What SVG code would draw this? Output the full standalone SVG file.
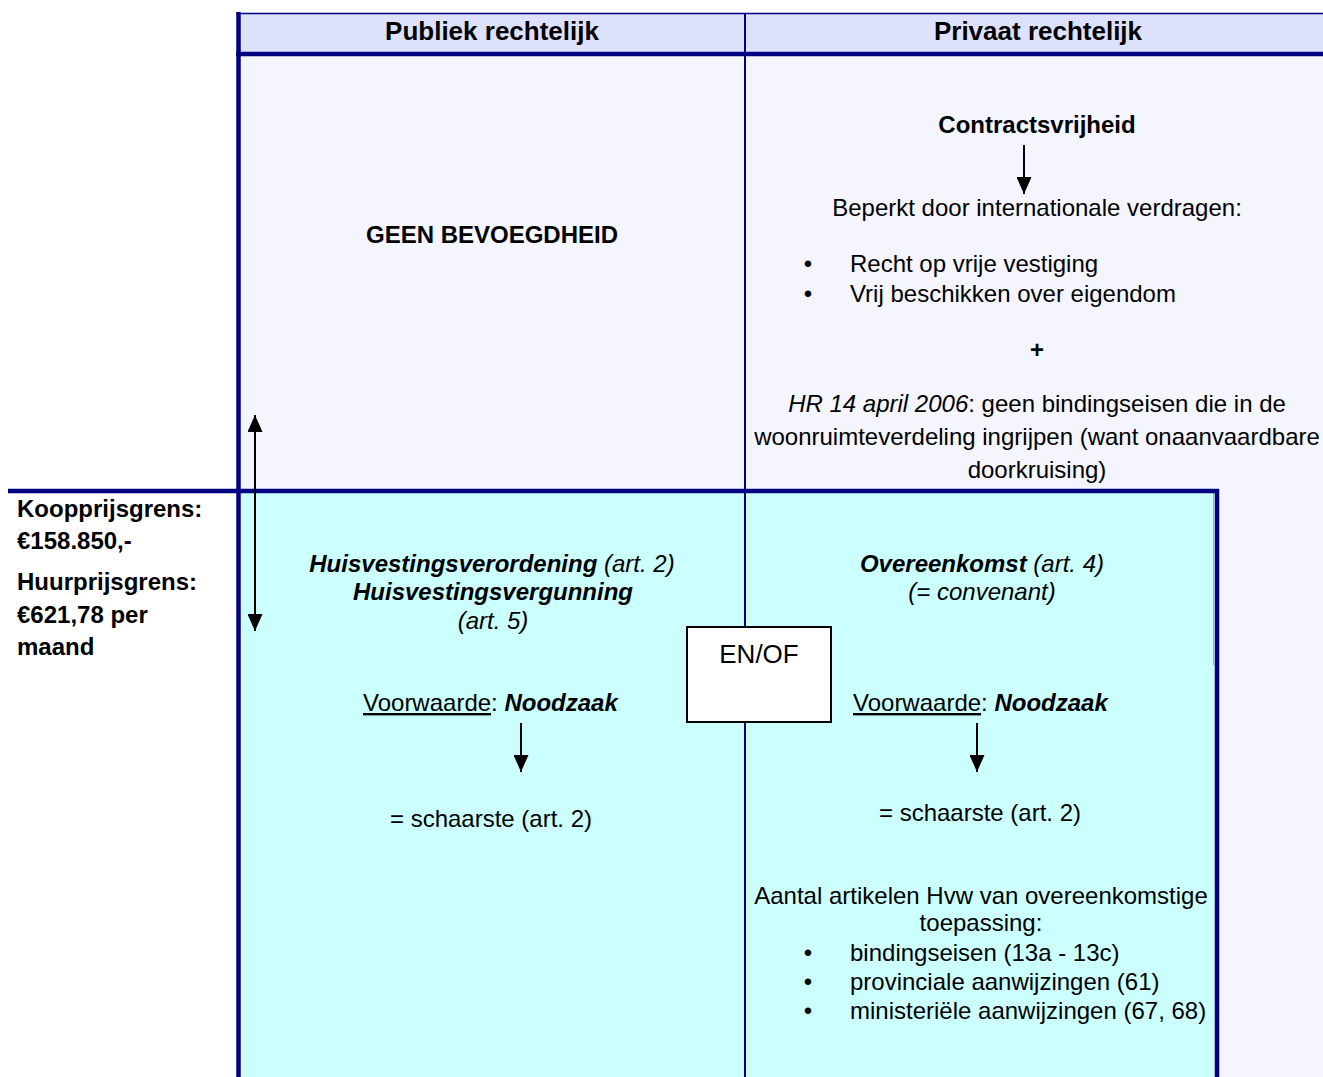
<svg xmlns="http://www.w3.org/2000/svg" width="1323" height="1077" viewBox="0 0 1323 1077">
<defs>
<marker id="ah" viewBox="0 0 17 15" refX="17" refY="7.5" markerWidth="17" markerHeight="15" markerUnits="userSpaceOnUse" orient="auto">
<path d="M0,0 L17,7.5 L0,15 Z" fill="#000"/>
</marker>
<style>
text{font-family:"Liberation Sans",Arial,sans-serif;font-size:24px;fill:#000}
.c{text-anchor:middle}
.b{font-weight:bold}
.i{font-style:italic}
.bi{font-weight:bold;font-style:italic}
.h{font-size:26px;font-weight:bold;text-anchor:middle}
.u{text-decoration:underline}
.nv{stroke:#000080;fill:none}
.arr{stroke:#000;stroke-width:2;fill:none;marker-end:url(#ah)}
</style>
</defs>
<rect x="0" y="0" width="1323" height="1077" fill="#fff"/>
<g id="background">
<rect x="238" y="13" width="1085" height="41" fill="#DDE1FC"/>
<rect x="238" y="54" width="1085" height="1023" fill="#F5F5FF"/>
<rect x="241" y="491" width="976" height="586" fill="#CCFFFF"/>
<line x1="1213.5" y1="493" x2="1213.5" y2="665" stroke="#9AB0C0" stroke-width="1"/>
</g>
<g id="grid">
<line class="nv" x1="236" y1="13.5" x2="1323" y2="13.5" stroke-width="1.6"/>
<line class="nv" x1="236" y1="54" x2="1323" y2="54" stroke-width="4.5"/>
<line class="nv" x1="745" y1="13" x2="745" y2="627" stroke-width="2"/>
<line class="nv" x1="745" y1="722" x2="745" y2="1077" stroke-width="2"/>
<line class="nv" x1="8" y1="491" x2="1219" y2="491" stroke-width="4.5"/>
<line class="nv" x1="1217" y1="489" x2="1217" y2="1077" stroke-width="4.5"/>
<line class="nv" x1="238.5" y1="12" x2="238.5" y2="1077" stroke-width="4.5"/>
</g>
<g id="header-publiek"><text class="h" x="492" y="40">Publiek rechtelijk</text></g>
<g id="header-privaat"><text class="h" x="1038" y="40">Privaat rechtelijk</text></g>
<g id="geen-bevoegdheid"><text class="c b" x="492" y="243">GEEN BEVOEGDHEID</text></g>
<g id="contractsvrijheid"><text class="c b" x="1037" y="133">Contractsvrijheid</text></g>
<g id="beperkt">
<text class="c" x="1037" y="216">Beperkt door internationale verdragen:</text>
<text class="c" x="808" y="272">•</text>
<text x="850" y="272">Recht op vrije vestiging</text>
<text class="c" x="808" y="302">•</text>
<text x="850" y="302">Vrij beschikken over eigendom</text>
<text class="c b" x="1037" y="358">+</text>
<text class="c" x="1037" y="412"><tspan class="i">HR 14 april 2006</tspan>: geen bindingseisen die in de</text>
<text class="c" x="1037" y="445">woonruimteverdeling ingrijpen (want onaanvaardbare</text>
<text class="c" x="1037" y="478">doorkruising)</text>
</g>
<g id="prijsgrenzen">
<text class="b" x="17" y="517">Koopprijsgrens:</text>
<text class="b" x="17" y="549">€158.850,-</text>
<text class="b" x="17" y="590">Huurprijsgrens:</text>
<text class="b" x="17" y="623">€621,78 per</text>
<text class="b" x="17" y="655">maand</text>
</g>
<g id="huisvesting">
<text class="c" x="492" y="572"><tspan class="bi">Huisvestingsverordening</tspan><tspan class="i"> (art. 2)</tspan></text>
<text class="c bi" x="493" y="600">Huisvestingsvergunning</text>
<text class="c i" x="493" y="629">(art. 5)</text>
</g>
<g id="overeenkomst">
<text class="c" x="982" y="572"><tspan class="bi">Overeenkomst</tspan><tspan class="i"> (art. 4)</tspan></text>
<text class="c i" x="982" y="600">(= convenant)</text>
</g>
<g id="en-of">
<rect x="687" y="627" width="144" height="95" fill="#fff" stroke="#000" stroke-width="2"/>
<text class="c" x="759" y="663" style="font-size:26px">EN/OF</text>
</g>
<g id="voorwaarde-links">
<text x="363" y="711"><tspan class="u">Voorwaarde</tspan>: <tspan class="bi">Noodzaak</tspan></text>
</g>
<g id="voorwaarde-rechts">
<text x="853" y="711"><tspan class="u">Voorwaarde</tspan>: <tspan class="bi">Noodzaak</tspan></text>
</g>
<g id="schaarste-links"><text class="c" x="491" y="827">= schaarste (art. 2)</text></g>
<g id="schaarste-rechts"><text class="c" x="980" y="821">= schaarste (art. 2)</text></g>
<g id="artikelen">
<text class="c" x="981" y="904">Aantal artikelen Hvw van overeenkomstige</text>
<text class="c" x="981" y="931">toepassing:</text>
<text class="c" x="808" y="961">•</text>
<text x="850" y="961">bindingseisen (13a - 13c)</text>
<text class="c" x="808" y="990">•</text>
<text x="850" y="990">provinciale aanwijzingen (61)</text>
<text class="c" x="808" y="1019">•</text>
<text x="850" y="1019">ministeriële aanwijzingen (67, 68)</text>
</g>
<g id="connectors">
<line class="arr" x1="1024" y1="145" x2="1024" y2="194"/>
<line class="arr" x1="521" y1="723" x2="521" y2="772"/>
<line class="arr" x1="977" y1="723" x2="977" y2="772"/>
<line class="arr" x1="255" y1="520" x2="255" y2="415"/>
<line class="arr" x1="255" y1="520" x2="255" y2="631"/>
</g>
</svg>
